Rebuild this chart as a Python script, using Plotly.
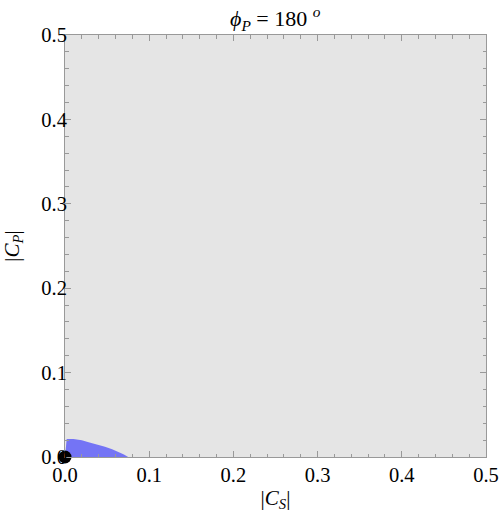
"""
Allowed region in the |C_S| - |C_P| plane for phi_P = 180 deg.
"""

import plotly.graph_objects as go

# boundary of the allowed (blue) region
region_cs = [0.0, 0.002, 0.01, 0.02, 0.028, 0.038, 0.0475, 0.056, 0.063, 0.07, 0.075]
region_cp = [0.0, 0.0214, 0.0212, 0.0198, 0.0175, 0.0150, 0.0122, 0.0092, 0.0063, 0.0030, 0.0]

# best-fit / SM point
point_cs = [0.0]
point_cp = [0.0]

tick_vals = [0.0, 0.1, 0.2, 0.3, 0.4, 0.5]
tick_text = ["0.0", "0.1", "0.2", "0.3", "0.4", "0.5"]

serif = "Liberation Serif"

fig = go.Figure()

fig.add_trace(go.Scatter(
    x=region_cs + [0.0],
    y=region_cp + [0.0],
    mode="lines",
    fill="toself",
    fillcolor="rgba(110,110,245,0.95)",
    line=dict(width=0, color="rgba(110,110,245,1)"),
    hoverinfo="skip",
    showlegend=False,
))

fig.add_trace(go.Scatter(
    x=point_cs,
    y=point_cp,
    mode="markers",
    marker=dict(size=13, color="black"),
    cliponaxis=False,
    showlegend=False,
))

axis_style = dict(
    range=[0, 0.5],
    tickvals=tick_vals,
    ticktext=tick_text,
    ticks="inside",
    ticklen=6,
    tickcolor="#999999",
    minor=dict(dtick=0.02, ticks="inside", ticklen=3.5, tickcolor="#999999"),
    showline=True,
    linecolor="#999999",
    linewidth=1,
    mirror="allticks",
    showgrid=False,
    zeroline=False,
    automargin=False,
    ticklabeloverflow="allow",
    tickfont=dict(family=serif, size=20.5, color="black"),
)

fig.update_layout(
    width=500,
    height=517,
    margin=dict(l=65, r=14, t=35, b=60),
    plot_bgcolor="#e5e5e5",
    paper_bgcolor="white",
    xaxis=dict(axis_style, ticklabelstandoff=-1, title=dict(
        text="|<i>C</i><sub><i>S</i></sub>|",
        font=dict(family=serif, size=21, color="black"),
        standoff=5,
    )),
    yaxis=dict(axis_style, ticklabelstandoff=-7, title=dict(
        text="|<i>C</i><sub><i>P</i></sub>|",
        font=dict(family=serif, size=21, color="black"),
        standoff=16,
    )),
    annotations=[dict(
        text="<i>ϕ</i><sub><i>P</i></sub> = 180 <sup><i>o</i></sup>",
        xref="paper", yref="paper",
        x=0.5, y=1.0, yanchor="bottom", yshift=-1,
        showarrow=False,
        font=dict(family=serif, size=22, color="black"),
    )],
)

# drop the default 8px body margin so the figure fills the window
fig.write_html(
    "out.html",
    config={"displayModeBar": False},
    post_script="document.body.style.margin='0';",
)
